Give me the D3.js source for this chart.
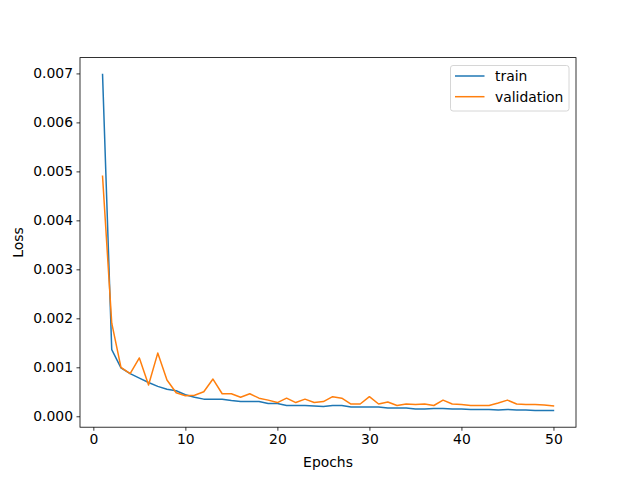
<!DOCTYPE html>
<meta charset="utf-8">
<style>
body { margin: 0; background: #fff; }
text { font-family: "DejaVu Sans", sans-serif; font-size: 13.9px; fill: #000; }
</style>
<svg width="640" height="480"></svg>
<script src="https://d3js.org/d3.v7.min.js"></script>
<script>
var epochs = d3.range(1, 51);
var trainLoss = [
	0.00698, 0.00136, 0.00099, 0.00087, 0.00078, 0.00069, 0.00061, 0.00055, 0.00052, 0.00044,
	0.00039, 0.00035, 0.00035, 0.00035, 0.00032, 0.00030, 0.00030, 0.00030, 0.00026, 0.00026,
	0.00022, 0.00022, 0.00022, 0.00021, 0.00020, 0.00022, 0.00022, 0.00019, 0.00019, 0.00019,
	0.00019, 0.00017, 0.00017, 0.00017, 0.00015, 0.00015, 0.00016, 0.00016, 0.00015, 0.00015,
	0.00014, 0.00014, 0.00014, 0.00013, 0.00014, 0.00013, 0.00013, 0.00012, 0.00012, 0.00012
];
var valLoss = [
	0.00490, 0.00190, 0.00100, 0.00087, 0.00119, 0.00064, 0.00129, 0.00074, 0.00048, 0.00042,
	0.00043, 0.00050, 0.00076, 0.00046, 0.00046, 0.00039, 0.00046, 0.00037, 0.00033, 0.00028,
	0.00037, 0.00028, 0.00035, 0.00028, 0.00030, 0.00040, 0.00037, 0.00025, 0.00025, 0.00040,
	0.00025, 0.00029, 0.00022, 0.00025, 0.00024, 0.00025, 0.00022, 0.00033, 0.00025, 0.00024,
	0.00022, 0.00022, 0.00022, 0.00027, 0.00033, 0.00025, 0.00024, 0.00024, 0.00023, 0.00021
];
var seriesNames = ["train", "validation"];
var seriesColors = ["#1f77b4", "#ff7f0e"];
var xTicks = [0, 10, 20, 30, 40, 50];
var yTicks = [0, 0.001, 0.002, 0.003, 0.004, 0.005, 0.006, 0.007];

var svg = d3.select("svg");
// note: "top" is taken by window.top, so use other names
var plotLeft = 80, plotRight = 576, plotTop = 57.6, plotBottom = 427.2;

// matplotlib style 5% margins
function padded(lo, hi) {
	var m = (hi - lo) * 0.05;
	return [lo - m, hi + m];
}
var allY = trainLoss.concat(valLoss);
var x = d3.scaleLinear().domain(padded(d3.min(epochs), d3.max(epochs))).range([plotLeft, plotRight]);
var y = d3.scaleLinear().domain(padded(d3.min(allY), d3.max(allY))).range([plotBottom, plotTop]);

svg.append("clipPath").attr("id", "plot")
	.append("rect")
	.attr("x", plotLeft).attr("y", plotTop)
	.attr("width", plotRight - plotLeft).attr("height", plotBottom - plotTop);

var line = d3.line()
	.x(function(d, i) { return x(epochs[i]); })
	.y(function(d) { return y(d); });

[trainLoss, valLoss].forEach(function(s, k) {
	svg.append("path")
		.attr("d", line(s))
		.attr("clip-path", "url(#plot)")
		.style("fill", "none")
		.style("stroke", seriesColors[k])
		.style("stroke-width", 1.5)
		.style("stroke-linejoin", "round")
		.style("stroke-linecap", "square");
});

var xAxis = svg.append("g")
	.attr("transform", "translate(0," + plotBottom + ")")
	.call(d3.axisBottom(x).tickValues(xTicks).tickSize(3.5).tickPadding(3.5).tickFormat(d3.format("d")));
var yAxis = svg.append("g")
	.attr("transform", "translate(" + plotLeft + ",0)")
	.call(d3.axisLeft(y).tickValues(yTicks).tickSize(3.5).tickPadding(3.5).tickFormat(d3.format(".3f")));

[xAxis, yAxis].forEach(function(a) {
	a.select(".domain").remove();
	a.selectAll(".tick line").style("stroke", "#000").style("stroke-width", 0.8);
	a.selectAll(".tick text")
		.style("font-family", "'DejaVu Sans', sans-serif")
		.style("font-size", "13.9px")
		.style("fill", "#000");
});

// frame
svg.append("rect")
	.attr("x", plotLeft).attr("y", plotTop)
	.attr("width", plotRight - plotLeft).attr("height", plotBottom - plotTop)
	.style("fill", "none")
	.style("stroke", "#000")
	.style("stroke-width", 0.8);

svg.append("text")
	.attr("x", (plotLeft + plotRight) / 2)
	.attr("y", 467)
	.style("text-anchor", "middle")
	.text("Epochs");

svg.append("text")
	.attr("transform", "translate(23," + ((plotTop + plotBottom) / 2) + ") rotate(-90)")
	.style("text-anchor", "middle")
	.text("Loss");

// legend
var legend = svg.append("g");
legend.append("rect")
	.attr("x", 450.5).attr("y", 65.5)
	.attr("width", 118.5).attr("height", 45.5)
	.attr("rx", 2.5)
	.style("fill", "#fff")
	.style("fill-opacity", 0.8)
	.style("stroke", "#cccccc")
	.style("stroke-width", 0.8);

seriesNames.forEach(function(name, k) {
	var ly = 76 + k * 20.7;
	legend.append("line")
		.attr("x1", 455).attr("x2", 484.5)
		.attr("y1", ly).attr("y2", ly)
		.style("stroke", seriesColors[k])
		.style("stroke-width", 1.5);
	legend.append("text")
		.attr("x", 495)
		.attr("y", ly)
		.attr("dy", "0.35em")
		.text(name);
});
</script>
